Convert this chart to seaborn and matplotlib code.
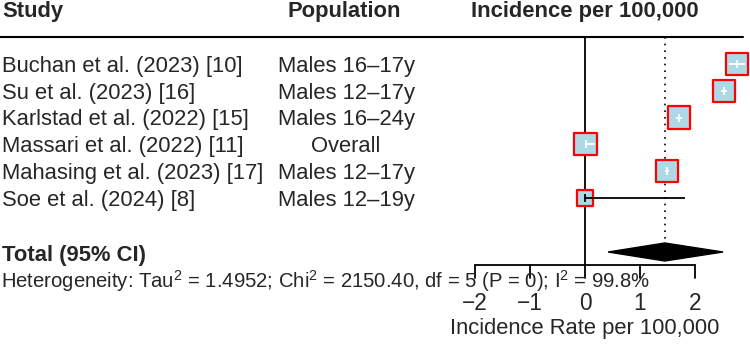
import numpy as np
import pandas as pd
import seaborn as sns
import matplotlib.pyplot as plt

# ---- data (log incidence per 100,000) ----
studies = ["Buchan et al. (2023) [10]", "Su et al. (2023) [16]",
           "Karlstad et al. (2022) [15]", "Massari et al. (2022) [11]",
           "Mahasing et al. (2023) [17]", "Soe et al. (2024) [8]"]
populations = ["Males 16–17y", "Males 12–17y", "Males 16–24y",
               "Overall", "Males 12–17y", "Males 12–19y"]
est = [2.76, 2.53, 1.71, 0.01, 1.49, 0.0]
lower = [2.61, 2.48, 1.65, 0.01, 1.45, 0.0]
upper = [2.90, 2.58, 1.77, 0.19, 1.53, 1.82]
weights = [18.2, 18.3, 18.3, 18.3, 18.3, 8.6]

total_est, total_lower, total_upper = 1.45, 0.42, 2.51
ticks = [-2, -1, 0, 1, 2]
het_text = ("Heterogeneity: Tau$^2$ = 1.4952; Chi$^2$ = 2150.40, "
            "df = 5 (P = 0); I$^2$ = 99.8%")

# ---- layout (pixel-like units) ----
W, H = 750, 345
X0, PX = 585, 55          # pixel of x=0, pixels per unit
row_y = 64 + 26.75 * np.arange(len(studies))
df = pd.DataFrame({"study": studies, "pop": populations, "est": est,
                   "lower": lower, "upper": upper, "w": weights, "y": row_y})

sns.set_theme(style="white")
plt.rcParams["font.family"] = ["Liberation Sans", "DejaVu Sans"]
plt.rcParams["mathtext.fontset"] = "custom"
plt.rcParams["mathtext.rm"] = "Liberation Sans"
plt.rcParams["mathtext.it"] = "Liberation Sans"
FS = 15.8

fig = plt.figure(figsize=(7.5, 3.45), dpi=100)
ax = fig.add_axes([0, 0, 1, 1])
ax.set_xlim(-X0 / PX, (W - X0) / PX)
ax.set_ylim(H, 0)
ax.axis("off")
tr = ax.get_yaxis_transform()

# headers
ax.text(2 / W, 12, "Study", transform=tr, fontsize=FS, fontweight="bold",
        ha="left", va="center")
ax.text(344 / W, 12, "Population", transform=tr, fontsize=FS,
        fontweight="bold", ha="center", va="center")
ax.text(0, 12, "Incidence per 100,000", fontsize=FS, fontweight="bold",
        ha="center", va="center")
ax.plot([0, 743 / W], [37, 37], transform=tr, color="black", lw=1.5)

# rows of text
for _, r in df.iterrows():
    ax.text(2 / W, r["y"], r["study"], transform=tr, fontsize=FS,
            ha="left", va="center_baseline")
    ax.text(346 / W, r["y"], r["pop"], transform=tr, fontsize=FS,
            ha="center", va="center_baseline")

# reference lines
ax.vlines(0, 37, 265, color="black", lw=1.3, zorder=1)
ax.vlines(total_est, 37, 243, color="black", lw=1.2, ls=(0, (1, 3)), zorder=1)

# study squares
sns.scatterplot(data=df, x="est", y="y", size="w", sizes=(125, 255),
                size_norm=(8.6, 18.3), marker="s", color="lightblue",
                edgecolor="red", linewidth=1.6, legend=False, ax=ax,
                zorder=3)

# confidence intervals: white inside box, black when sticking out
half = np.sqrt(np.array(weights) / 18.3 * 255) / 72 * 100 / 2 / PX
for i, r in df.iterrows():
    inside = (r["lower"] >= r["est"] - half[i]) and (r["upper"] <= r["est"] + half[i])
    c = "white" if inside else "black"
    ax.hlines(r["y"], r["lower"], r["upper"], color=c, lw=1.3, zorder=4)
    ax.vlines(r["est"], r["y"] - 4, r["y"] + 4, color=c, lw=1.3, zorder=4)

# total
ax.text(2 / W, 253, "Total (95% CI)", transform=tr, fontsize=FS,
        fontweight="bold", ha="left", va="center_baseline")
ax.fill([total_lower, total_est, total_upper, total_est],
        [252, 243, 252, 261], color="black", zorder=3)
ax.text(1 / W, 278, het_text, transform=tr, fontsize=FS - 1.2,
        ha="left", va="center_baseline")

# x axis
ax.plot([ticks[0], ticks[-1]], [265, 265], color="black", lw=1.3)
for t in ticks:
    ax.plot([t, t], [265, 278], color="black", lw=1.3)
    ax.text(t, 301, f"{t}".replace("-", "\u2212"), fontsize=FS + 0.5,
            ha="center", va="center_baseline")
ax.text(0, 326, "Incidence Rate per 100,000", fontsize=FS,
        ha="center", va="center_baseline")

plt.savefig("out.png", dpi=100)
plt.close()
